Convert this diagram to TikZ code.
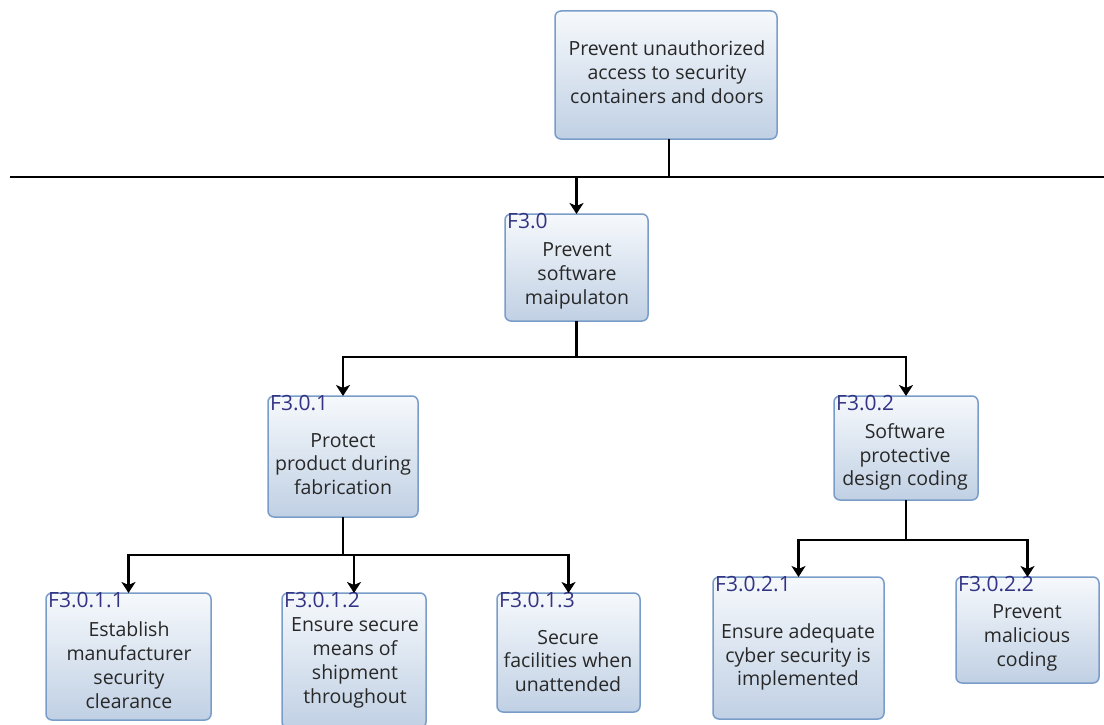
\documentclass[tikz,border=0pt]{standalone}
\usepackage{fontspec}
\setmainfont{Open Sans}
\usetikzlibrary{arrows.meta}
\definecolor{boxedge}{RGB}{122,156,200}
\definecolor{boxtop}{RGB}{246,249,252}
\definecolor{boxbottom}{RGB}{192,208,228}
\definecolor{idblue}{RGB}{52,52,132}
\definecolor{bodytext}{RGB}{40,40,40}
\tikzset{
  box/.style={draw=boxedge, line width=1.5pt, rounded corners=6pt,
    top color=boxtop, bottom color=boxbottom, anchor=north west,
    inner sep=0pt, outer sep=0pt},
  body/.style={align=center, text=bodytext, inner sep=0pt,
    font=\fontsize{19.5}{23.8}\selectfont},
  ident/.style={text=idblue, anchor=north west, inner sep=0pt,
    font=\fontsize{21}{21}\selectfont},
  link/.style={line width=2.6pt, black},
  arr/.style={link, -{Stealth[length=11pt, width=14pt, inset=3pt]}},
}
\begin{document}
\begin{tikzpicture}[x=1pt, y=-1pt]
\useasboundingbox (0,0) rectangle (1104,725);

% boxes
\node[box, minimum width=222pt, minimum height=128pt] (top) at (555,11) {};
\node[box, minimum width=143pt, minimum height=107pt] (f30) at (505,214) {};
\node[box, minimum width=150pt, minimum height=121pt] (f301) at (268,396) {};
\node[box, minimum width=144pt, minimum height=104pt] (f302) at (834,396) {};
\node[box, minimum width=165pt, minimum height=127pt] (f3011) at (46,593) {};
\node[box, minimum width=144pt, minimum height=135pt] (f3012) at (282,593) {};
\node[box, minimum width=143pt, minimum height=119pt] (f3013) at (497,593) {};
\node[box, minimum width=171pt, minimum height=142pt] (f3021) at (713,577) {};
\node[box, minimum width=143pt, minimum height=106pt] (f3022) at (956,577) {};

% texts
\node[body] (topt) at (667,72) {Prevent unauthorized\\access to security\\containers and doors};
\node[ident] (f30l) at (507,213) {F3.0};
\node[body] (f30t) at (577,276) {Prevent\\software\\maipulaton};
\node[ident] (f301l) at (270,395) {F3.0.1};
\node[body] (f301t) at (343,464) {Protect\\product during\\fabrication};
\node[ident] (f302l) at (836,395) {F3.0.2};
\node[body] (f302t) at (905,457) {Software\\protective\\design coding};
\node[ident] (f3011l) at (48,592) {F3.0.1.1};
\node[body] (f3011t) at (129,665) {Establish\\manufacturer\\security\\clearance};
\node[ident] (f3012l) at (284,592) {F3.0.1.2};
\node[body] (f3012t) at (355,663) {Ensure secure\\means of\\shipment\\throughout};
\node[ident] (f3013l) at (499,592) {F3.0.1.3};
\node[body] (f3013t) at (568,661) {Secure\\facilities when\\unattended};
\node[ident] (f3021l) at (715,576) {F3.0.2.1};
\node[body] (f3021t) at (798,657) {Ensure adequate\\cyber security is\\implemented};
\node[ident] (f3022l) at (958,576) {F3.0.2.2};
\node[body] (f3022t) at (1027,638) {Prevent\\malicious\\coding};

% bus lines
\coordinate (busL) at (10,177);
\coordinate (busR) at (1104,177);
\coordinate (bus1) at (0,357);
\coordinate (bus2) at (0,555);
\coordinate (bus3) at (0,540);
\coordinate (topdrop) at (669,0);

\draw[link] (busL) -- (busR);
\draw[link] (top.south -| topdrop) -- (topdrop |- busL);
\draw[arr] (f30.north |- busL) -- (f30.north);

\draw[link] (f30.south) -- (f30.south |- bus1);
\draw[arr] (f30.south |- bus1) -| (f301.north);
\draw[arr] (f30.south |- bus1) -| (f302.north);

\draw[link] (f301.south) -- (f301.south |- bus2);
\draw[arr] (f301.south |- bus2) -| (f3011.north);
\draw[arr] (f301.south |- bus2) -| (f3012.north);
\draw[arr] (f301.south |- bus2) -| (f3013.north);

\draw[link] (f302.south) -- (f302.south |- bus3);
\draw[arr] (f302.south |- bus3) -| (f3021.north);
\draw[arr] (f302.south |- bus3) -| (f3022.north);
\end{tikzpicture}
\end{document}
